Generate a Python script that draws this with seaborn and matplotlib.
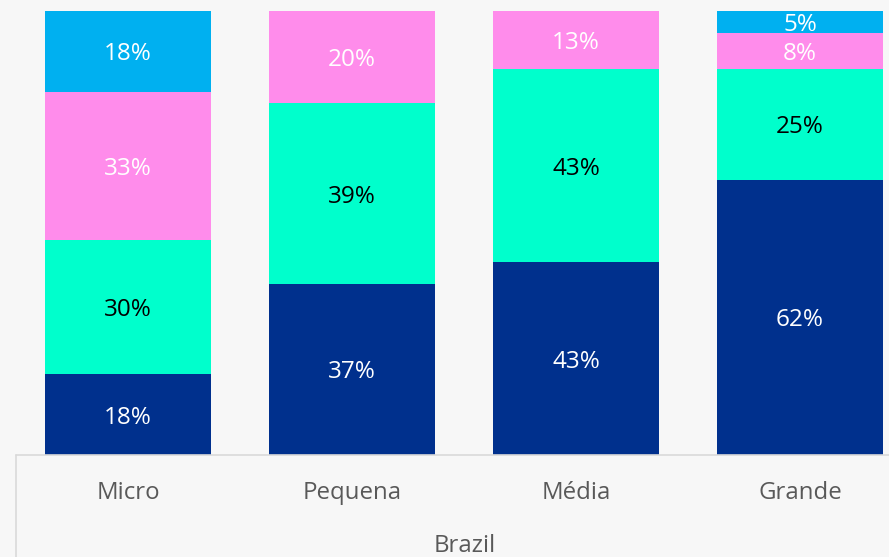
import numpy as np
import pandas as pd
import matplotlib
matplotlib.use("Agg")
import matplotlib.pyplot as plt
import seaborn as sns

# data (percent labels)
sizes = ["Micro", "Pequena", "Média", "Grande"]
s1 = [18, 37, 43, 62]   # navy (bottom)
s2 = [30, 39, 43, 25]   # teal
s3 = [33, 20, 13, 8]    # pink
s4 = [18, 0, 0, 5]      # light blue (top)
group = "Brazil"

colors = ["#00308D", "#00FFCC", "#FF8CEB", "#00B0F0"]
txt_colors = ["white", "black", "white", "white"]

sns.set_style("white")
plt.rcParams["font.family"] = ["Open Sans", "DejaVu Sans"]

df = pd.DataFrame({"size": sizes, "s1": s1, "s2": s2, "s3": s3, "s4": s4})
series = ["s1", "s2", "s3", "s4"]
tot = df[series].sum(axis=1)
share = df[series].div(tot, axis=0) * 100

fig = plt.figure(figsize=(8.89, 5.57), dpi=100, facecolor="#F7F7F7")
W, H = 889, 557
ax = fig.add_axes([16 / W, 102 / H, (912 - 16) / W, 444 / H])
ax.set_facecolor("#F7F7F7")

bottom = np.zeros(len(df))
for k, s in enumerate(series):
    d = pd.DataFrame({"size": sizes, "v": share[s].values})
    sns.barplot(data=d, x="size", y="v", order=sizes, color=colors[k],
                bottom=bottom, width=0.745, saturation=1, ax=ax,
                edgecolor="none", linewidth=0)
    for i in range(len(df)):
        if df[s][i] > 0:
            ax.text(i, bottom[i] + share[s][i] / 2, f"{df[s][i]}%",
                    ha="center", va="center_baseline", fontsize=17.5,
                    color=txt_colors[k])
    bottom = bottom + share[s].values

ax.set_xlim(-0.5, 3.5)
ax.set_ylim(0, 100)
ax.set_xlabel("")
ax.set_ylabel("")
ax.set_yticks([])
ax.tick_params(axis="x", length=0, pad=19, labelsize=17.3, labelcolor="#595959")
for sp in ax.spines.values():
    sp.set_visible(False)

# category box lines
fig.add_artist(plt.Line2D([16 / W, 1], [102 / H, 102 / H], color="#D9D9D9", lw=1.2))
fig.add_artist(plt.Line2D([16 / W, 16 / W], [0, 102 / H], color="#D9D9D9", lw=1.2))
fig.text(465 / W, 1 - 546 / H, group, ha="center", va="center",
         fontsize=17.3, color="#595959")

fig.savefig("out.png", dpi=100, facecolor=fig.get_facecolor())
